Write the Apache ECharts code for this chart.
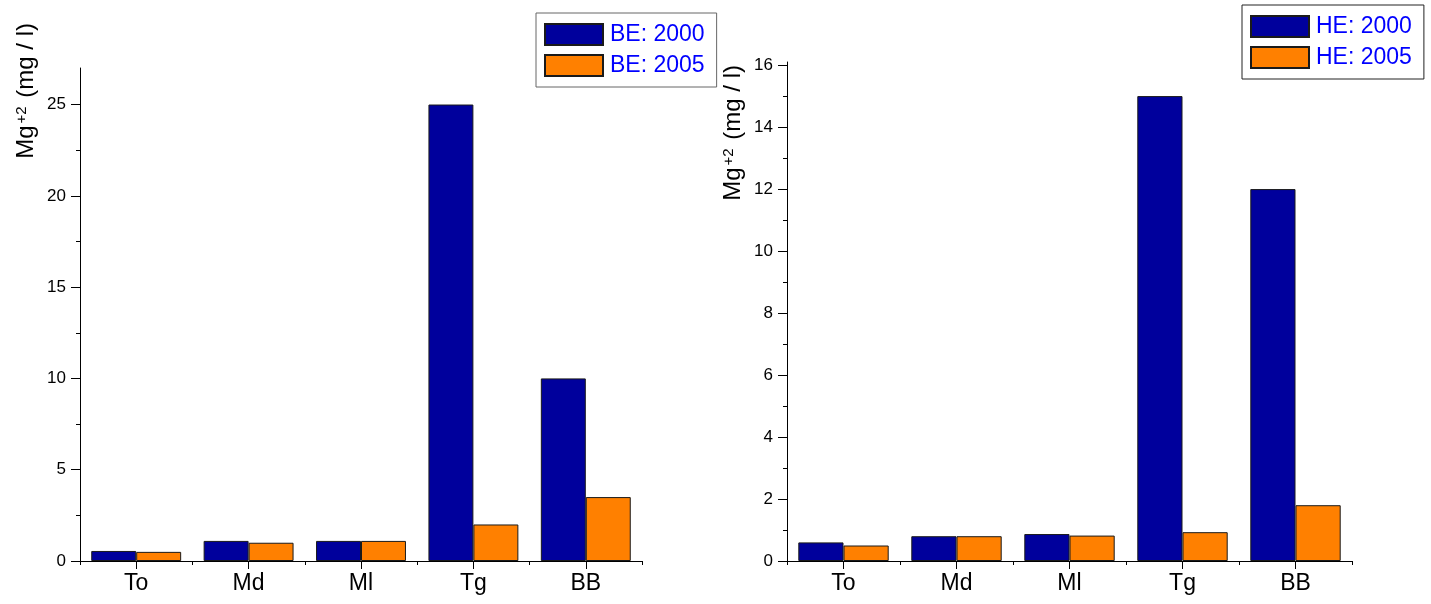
<!DOCTYPE html>
<html>
<head>
<meta charset="utf-8">
<script src="https://cdn.jsdelivr.net/npm/echarts@6/dist/echarts.min.js"></script>
<style>
  html, body { margin: 0; padding: 0; background: #fff; }
  #chart { width: 1431px; height: 604px; }
</style>
</head>
<body>
<div id="chart"></div>
<script>
// Sampling sites
const categories = ['To', 'Md', 'Ml', 'Tg', 'BB'];

// Mg+2 concentrations (mg / l), BE samples
const be2000 = [0.55, 1.1, 1.1, 25, 10];
const be2005 = [0.5, 1.0, 1.1, 2.0, 3.5];

// Mg+2 concentrations (mg / l), HE samples
const he2000 = [0.6, 0.8, 0.87, 15, 12];
const he2005 = [0.5, 0.8, 0.82, 0.93, 1.8];

// Axis ticks
const beTicks = [0, 5, 10, 15, 20, 25];
const beMinorTicks = [2.5, 7.5, 12.5, 17.5, 22.5];
const heTicks = [0, 2, 4, 6, 8, 10, 12, 14, 16];
const heMinorTicks = [1, 3, 5, 7, 9, 11, 13, 15];

const FONT = '"Liberation Sans", Arial, sans-serif';
const NAVY = '#00009c';
const ORANGE = '#ff8000';

const axisTitle = {
  name: '{a|Mg}{s|+2}{a| (mg / l)}',
  nameLocation: 'end',
  nameRotate: 90,
  nameTextStyle: {
    align: 'right',
    verticalAlign: 'bottom',
    padding: [0, 0, 42, 0],
    rich: {
      a: { fontSize: 24, fontFamily: FONT, color: '#000' },
      s: { fontSize: 15, fontFamily: FONT, color: '#000', verticalAlign: 'top', padding: [0, 2, 0, 2] }
    }
  }
};

function majorY(grid, max, ticks, gap) {
  return Object.assign({
    type: 'value', gridIndex: grid, position: 'left', min: 0, max: max,
    nameGap: gap,
    axisLine: { show: true, lineStyle: { color: '#000', width: 1 } },
    axisTick: { show: true, length: 9, customValues: ticks, lineStyle: { color: '#000' } },
    axisLabel: { show: true, customValues: ticks, margin: 14, fontSize: 17, fontFamily: FONT, color: '#000' },
    splitLine: { show: false }
  }, axisTitle);
}

function minorY(grid, max, ticks) {
  return {
    type: 'value', gridIndex: grid, position: 'left', offset: 0, min: 0, max: max,
    axisLine: { show: false },
    axisTick: { show: true, length: 4, customValues: ticks, lineStyle: { color: '#000' } },
    axisLabel: { show: false },
    splitLine: { show: false }
  };
}

function majorX(grid) {
  return {
    type: 'category', gridIndex: grid, position: 'bottom', data: categories,
    axisLine: { show: true, lineStyle: { color: '#000', width: 1 } },
    axisTick: { show: true, alignWithLabel: true, length: 8, lineStyle: { color: '#000' } },
    axisLabel: { margin: 11, fontSize: 23, fontFamily: FONT, color: '#000' },
    splitLine: { show: false }
  };
}

function minorX(grid) {
  return {
    type: 'category', gridIndex: grid, position: 'bottom', offset: 0, data: categories,
    axisLine: { show: false },
    axisTick: { show: true, length: 4, lineStyle: { color: '#000' } },
    axisLabel: { show: false },
    splitLine: { show: false }
  };
}

function bars(name, data, xi, yi, color) {
  return {
    type: 'bar', name: name, data: data, xAxisIndex: xi, yAxisIndex: yi,
    barGap: '0%', barCategoryGap: '20%',
    itemStyle: { color: color, borderColor: '#1a1a1a', borderWidth: 1 }
  };
}

function legendBox(names, left, top, border) {
  return {
    data: names, left: left, top: top, orient: 'vertical', icon: 'rect',
    selectedMode: false,
    padding: [10, 12, 10, 8],
    itemWidth: 58, itemHeight: 21, itemGap: 8,
    borderColor: border, borderWidth: 1, backgroundColor: '#fff',
    textStyle: { fontSize: 23, fontFamily: FONT, color: '#0000ff', padding: [0, 0, 0, 2] }
  };
}

const chart = echarts.init(document.getElementById('chart'), null, { renderer: 'canvas' });
chart.setOption({
  animation: false,
  backgroundColor: '#fff',
  grid: [
    { left: 80, top: 68, width: 562, bottom: 43 },
    { left: 787, top: 62, width: 565, bottom: 43 }
  ],
  xAxis: [majorX(0), minorX(0), majorX(1), minorX(1)],
  yAxis: [
    majorY(0, 27, beTicks, 45), minorY(0, 27, beMinorTicks),
    majorY(1, 16.1, heTicks, -3), minorY(1, 16.1, heMinorTicks)
  ],
  legend: [
    legendBox(['BE: 2000', 'BE: 2005'], 536, 13, '#666'),
    legendBox(['HE: 2000', 'HE: 2005'], 1242, 5, '#222')
  ],
  series: [
    bars('BE: 2000', be2000, 0, 0, NAVY),
    bars('BE: 2005', be2005, 0, 0, ORANGE),
    bars('HE: 2000', he2000, 2, 2, NAVY),
    bars('HE: 2005', he2005, 2, 2, ORANGE)
  ]
});
</script>
</body>
</html>
